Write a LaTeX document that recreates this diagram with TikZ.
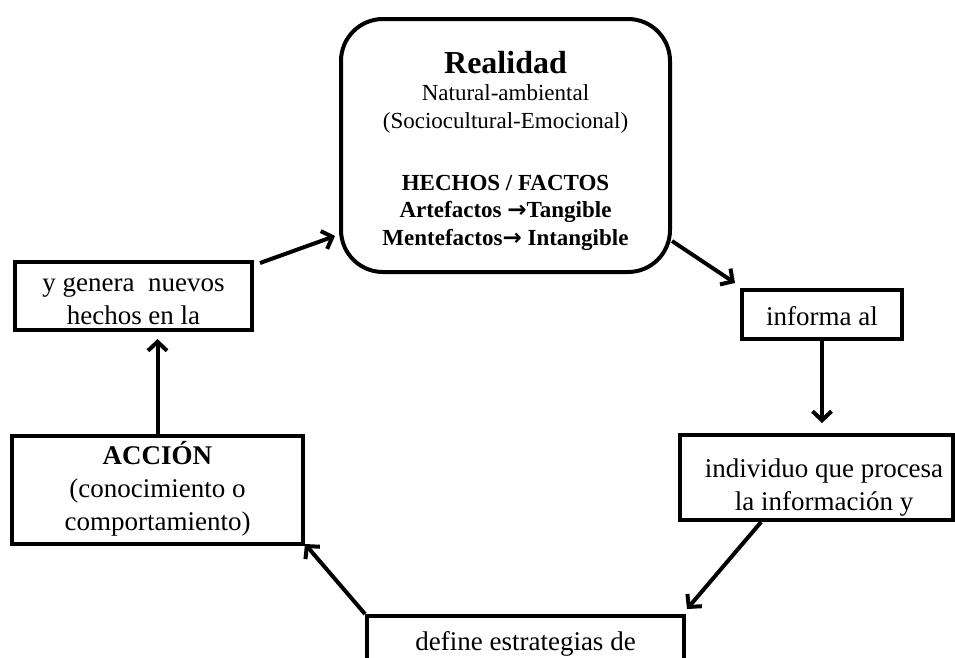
\documentclass[tikz,border=0pt]{standalone}
\usepackage{fontspec}
\setmainfont{Liberation Serif}
\newfontfamily\arrowfont{DejaVu Sans}
\newcommand{\heavyarrow}{{\arrowfont\bfseries →}}
\usetikzlibrary{arrows.meta,calc}
\begin{document}
\begin{tikzpicture}[x=1pt,y=-1pt,
  box/.style={draw, line width=4pt, inner sep=0pt, align=center, anchor=north,
    font=\fontsize{27}{33}\selectfont},
  link/.style={line width=4pt,
    -{Straight Barb[length=9pt,width=19pt,line width=4pt]}},
]
\clip (0,0) rectangle (955,657);

% central rounded box (text height/depth measured from the last baseline)
\node[box, rounded corners=42pt, minimum width=329pt,
      text height=226pt, text depth=27pt,
      font=\fontsize{23}{27.5}\selectfont] (real) at (505.5,17)
  {{\fontsize{32}{32}\selectfont\bfseries Realidad}\\
   Natural-ambiental\\
   (Sociocultural-Emocional)\\[34.5pt]
   \textbf{HECHOS / FACTOS}\\
   \textbf{Artefactos \heavyarrow Tangible}\\
   \textbf{Mentefactos\heavyarrow\ Intangible}};

% boxes around the cycle
\node[box, minimum width=160pt, text height=35pt, text depth=14pt] (informa) at (822,288)
  {informa al};
\node[box, minimum width=273pt, text height=75pt, text depth=10pt] (indiv) at (816.5,433)
  {\hspace*{15pt}individuo que procesa\\\hspace*{15pt}la información y};
\node[box, minimum width=317pt, text height=34pt, text depth=72pt] (define) at (525.5,614)
  {define estrategias de};
\node[box, minimum width=291pt, text height=94pt, text depth=14pt] (accion) at (157.5,434)
  {\textbf{ACCIÓN}\\(conocimiento o\\comportamiento)};
\node[box, minimum width=237pt, text height=62pt, text depth=6pt] (genera) at (133.5,260)
  {y genera\ \ nuevos\\hechos en la};

% connectors
\draw[link] ([xshift=6pt,yshift=-3pt]genera.north east) -- ([xshift=-4pt,yshift=38pt]real.south west);
\draw[link] ([yshift=33pt]real.south east) -- ([xshift=-5pt,yshift=5pt]informa.north west);
\draw[link] (informa.south) -- ([yshift=10pt]informa.south |- indiv.north);
\draw[link] ($(indiv.south west)!0.3!(indiv.south east)$) -- ([xshift=1pt,yshift=5pt]define.north east);
\draw[link] (define.north west) -- ([yshift=2pt]accion.south east);
\draw[link] (accion.north) -- ([yshift=-7pt]accion.north |- genera.south);
\end{tikzpicture}
\end{document}
